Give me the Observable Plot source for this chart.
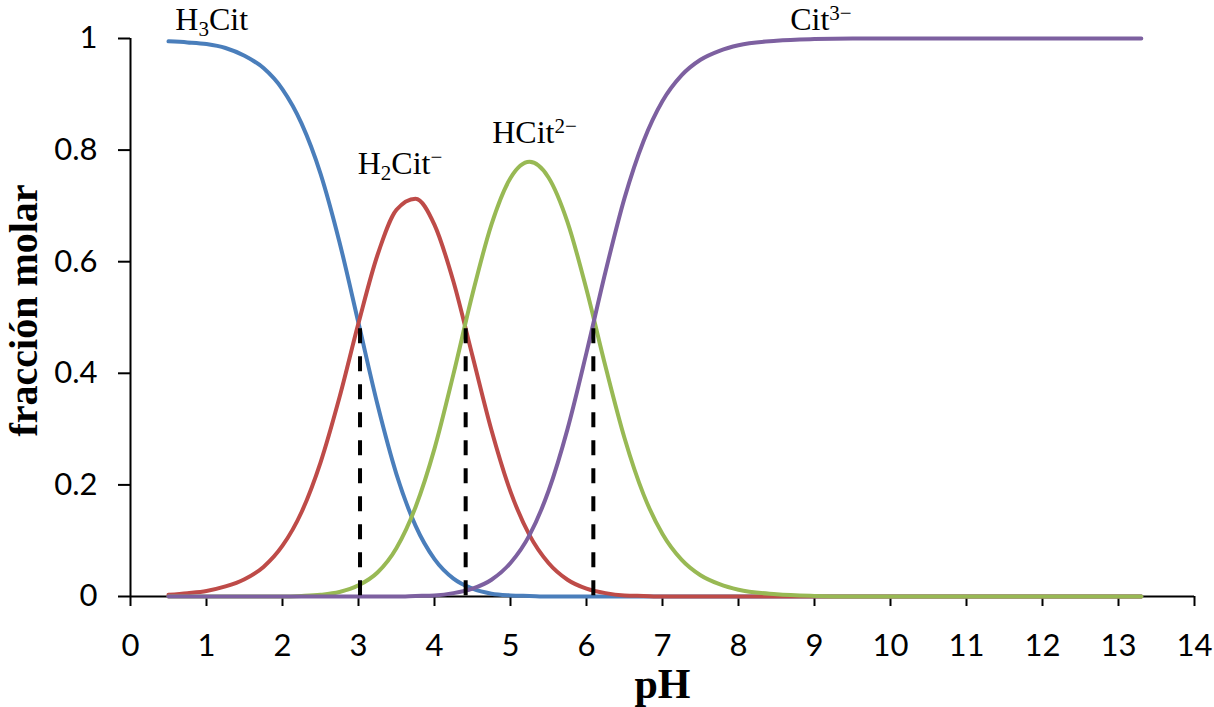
<!DOCTYPE html>
<html>
<head>
<meta charset="utf-8">
<script src="https://cdn.jsdelivr.net/npm/d3@7"></script>
<script src="https://cdn.jsdelivr.net/npm/@observablehq/plot@0.6"></script>
<style>
  html, body { margin: 0; padding: 0; background: white; }
  #chart { width: 1214px; height: 707px; }
</style>
</head>
<body>
<div id="chart"></div>
<script>
// pH sample points
const pH = [0.5,0.75,1,1.25,1.5,1.75,2,2.25,2.5,2.75,3,3.25,3.5,3.75,4,4.25,4.5,4.75,5,5.25,5.5,5.75,6,6.25,6.5,6.75,7,7.25,7.5,7.75,8,8.5,9,9.5,10,11,12,13,13.3];
// molar fractions of each species
const fH3Cit = [0.995,0.993,0.990,0.983,0.969,0.947,0.909,0.848,0.758,0.635,0.490,0.344,0.219,0.127,0.067,0.032,0.014,0.005,0.002,0.001,0,0,0,0,0,0,0,0,0,0,0,0,0,0,0,0,0,0,0];
const fH2Cit = [0.003,0.006,0.010,0.018,0.031,0.053,0.091,0.151,0.240,0.357,0.490,0.612,0.693,0.713,0.666,0.564,0.431,0.298,0.188,0.110,0.060,0.030,0.014,0.006,0.002,0.001,0,0,0,0,0,0,0,0,0,0,0,0,0];
const fHCit  = [0,0,0,0,0,0,0,0.001,0.003,0.008,0.020,0.043,0.087,0.160,0.265,0.399,0.542,0.667,0.750,0.779,0.751,0.671,0.550,0.412,0.284,0.183,0.112,0.066,0.038,0.022,0.012,0.004,0.001,0,0,0,0,0,0];
const fCit   = [0,0,0,0,0,0,0,0,0,0,0,0,0,0.001,0.002,0.006,0.014,0.030,0.060,0.110,0.189,0.300,0.437,0.582,0.714,0.816,0.888,0.934,0.962,0.978,0.988,0.996,0.999,1,1,1,1,1,1];

const species = ["H3Cit", "H2Cit-", "HCit2-", "Cit3-"];
const seriesValues = [fH3Cit, fH2Cit, fHCit, fCit];
const colors = ["#4a7ebb", "#be4b48", "#98b954", "#7d60a0"];

// species labels
const labelText = ["H_3Cit", "H_2Cit^\u2212", "HCit^2\u2212", "Cit^3\u2212"];
const labelX = [0.59, 2.99, 4.76, 8.68];
const labelY = [1.0145, 0.758, 0.812, 1.0145];

// pKa dashed markers
const pKaX = [3.02, 4.41, 6.09];
const pKaTop = [0.48, 0.48, 0.48];

// ticks
const xTicks = [0,1,2,3,4,5,6,7,8,9,10,11,12,13,14];
const yTicks = [0, 0.2, 0.4, 0.6, 0.8, 1];
const yTickLabels = ["0", "0.2", "0.4", "0.6", "0.8", "1"];

const rows = [];
species.forEach((s, k) => {
  pH.forEach((p, i) => rows.push({species: s, pH: p, f: seriesValues[k][i]}));
});

const serif = "'Liberation Serif', 'Times New Roman', serif";

const plot = Plot.plot({
  width: 1214,
  height: 707,
  marginLeft: 130,
  marginRight: 20,
  marginTop: 38,
  marginBottom: 111,
  style: {fontFamily: "Lato, 'Open Sans', sans-serif", fontSize: "31px", background: "white", color: "black"},
  x: {domain: [0, 14]},
  y: {domain: [0, 1]},
  color: {domain: species, range: colors},
  marks: [
    Plot.axisX({ticks: xTicks, tickSize: 10, tickPadding: 27, strokeWidth: 2, label: null, fontSize: 31, tickFormat: d => String(d)}),
    Plot.axisY({ticks: yTicks, tickSize: 12, tickPadding: 21, strokeWidth: 2, label: null, fontSize: 31,
      tickFormat: d => yTickLabels[yTicks.indexOf(d)]}),
    Plot.ruleY([0], {stroke: "black", strokeWidth: 2}),
    Plot.ruleX([0], {stroke: "black", strokeWidth: 2}),
    Plot.line(rows, {x: "pH", y: "f", z: "species", stroke: "species", strokeWidth: 4, curve: "monotone-x"}),
    Plot.ruleX(d3.range(pKaX.length), {x: i => pKaX[i], y1: i => pKaTop[i], y2: 0, stroke: "black", strokeWidth: 4, strokeDasharray: "15,13"}),
    Plot.text(d3.range(labelText.length), {x: i => labelX[i], y: i => labelY[i], text: i => labelText[i],
      textAnchor: "start", lineAnchor: "bottom", fontFamily: serif, fontSize: 32, fill: "black"}),
    Plot.text(["pH"], {text: d => d, frameAnchor: "bottom", dy: 101, lineAnchor: "bottom", textAnchor: "middle",
      fontFamily: serif, fontWeight: "bold", fontSize: 42, fill: "black"}),
    Plot.text(["fracción molar"], {text: d => d, frameAnchor: "left", dx: -94, dy: -7, rotate: -90, lineAnchor: "bottom",
      textAnchor: "middle", fontFamily: serif, fontWeight: "bold", fontSize: 40, fill: "black"})
  ]
});

// turn _x / ^x markup in species labels into subscript / superscript tspans
const NS = "http://www.w3.org/2000/svg";
plot.querySelectorAll("text").forEach(t => {
  const s = t.textContent;
  if (!labelText.includes(s)) return;
  const parts = s.split(/([_^][0-9\u2212]+)/).filter(p => p.length);
  while (t.firstChild) t.removeChild(t.firstChild);
  let shift = 0;
  parts.forEach(p => {
    const ts = document.createElementNS(NS, "tspan");
    let target = 0, txt = p;
    if (p[0] === "_") { target = 6; txt = p.slice(1); ts.setAttribute("font-size", "21"); }
    else if (p[0] === "^") { target = -10; txt = p.slice(1); ts.setAttribute("font-size", "21"); }
    if (target !== shift) ts.setAttribute("dy", String(target - shift));
    shift = target;
    ts.textContent = txt;
    t.appendChild(ts);
  });
});

document.getElementById("chart").appendChild(plot);
</script>
</body>
</html>
